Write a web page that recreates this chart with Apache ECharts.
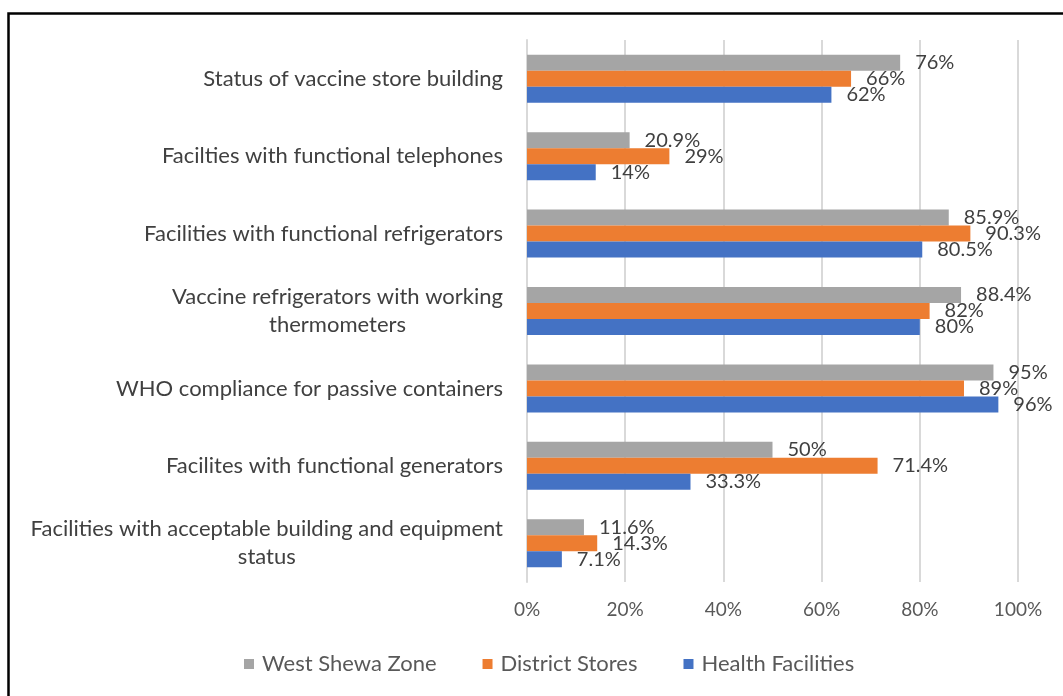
<!DOCTYPE html>
<html>
<head>
<meta charset="utf-8" />
<title>Cold chain status</title>
<script src="https://cdn.jsdelivr.net/npm/echarts@6/dist/echarts.min.js"></script>
<style>
  html, body { margin: 0; padding: 0; background: #fff; }
  #chart { width: 1063px; height: 696px; }
</style>
</head>
<body>
<div id="chart"></div>
<script>
// categories, top to bottom
var categories = [
  'Status of vaccine store building',
  'Facilties with functional telephones',
  'Facilities with functional refrigerators',
  'Vaccine refrigerators with working\nthermometers',
  'WHO compliance for passive containers',
  'Facilites with functional generators',
  'Facilities with acceptable building and equipment\nstatus'
];
var seriesNames = ['West Shewa Zone', 'District Stores', 'Health Facilities'];
var westShewa = [76, 20.9, 85.9, 88.4, 95, 50, 11.6];
var districtStores = [66, 29, 90.3, 82, 89, 71.4, 14.3];
var healthFacilities = [62, 14, 80.5, 80, 96, 33.3, 7.1];
var tickValues = [0, 20, 40, 60, 80, 100];

var colors = ['#a5a5a5', '#ed7d31', '#4472c4'];
var font = 'Lato, "Open Sans", sans-serif';
var textColor = '#404040';

var chart = echarts.init(document.getElementById('chart'));

function barSeries(name, values, color) {
  return {
    name: name,
    type: 'bar',
    data: values,
    barGap: '0%',
    barCategoryGap: '38%',
    itemStyle: { color: color },
    label: {
      show: true,
      position: 'right',
      distance: 15,
      color: textColor,
      fontFamily: font,
      fontSize: 20,
      formatter: function (p) { return p.value + '%'; }
    }
  };
}

var option = {
  animation: false,
  textStyle: { fontFamily: font },
  graphic: [{
    type: 'rect',
    left: 6,
    top: 11,
    shape: { width: 1080, height: 700 },
    style: { fill: 'none', stroke: '#000', lineWidth: 2.5 },
    silent: true
  }],
  legend: {
    data: seriesNames,
    bottom: 16,
    left: 239,
    itemWidth: 10,
    itemHeight: 10,
    itemGap: 46,
    icon: 'rect',
    textStyle: { color: '#595959', fontSize: 22, fontFamily: font, padding: [0, 0, 0, 3] }
  },
  grid: { left: 527, right: 45, top: 40, bottom: 114 },
  xAxis: {
    type: 'value',
    min: 0,
    max: 100,
    interval: 20,
    axisLine: { show: false },
    axisTick: { show: false },
    splitLine: { show: true, lineStyle: { color: '#d9d9d9', width: 2 } },
    axisLabel: {
      color: '#595959',
      fontSize: 19,
      fontFamily: font,
      margin: 18,
      formatter: function (v) { return tickValues.indexOf(v) >= 0 ? v + '%' : ''; }
    }
  },
  yAxis: {
    type: 'category',
    data: categories,
    inverse: true,
    axisLine: { show: true, lineStyle: { color: '#d9d9d9', width: 2 } },
    axisTick: { show: false },
    axisLabel: {
      color: textColor,
      fontSize: 22,
      fontFamily: font,
      margin: 24,
      lineHeight: 28,
      formatter: function (v) {
        return v.split('\n').map(function (s) { return '{c|' + s + '}'; }).join('\n');
      },
      rich: {
        c: { align: 'center', color: textColor, fontSize: 22, fontFamily: font, lineHeight: 28 }
      }
    }
  },
  series: [
    barSeries(seriesNames[0], westShewa, colors[0]),
    barSeries(seriesNames[1], districtStores, colors[1]),
    barSeries(seriesNames[2], healthFacilities, colors[2])
  ]
};

chart.setOption(option);
</script>
</body>
</html>
